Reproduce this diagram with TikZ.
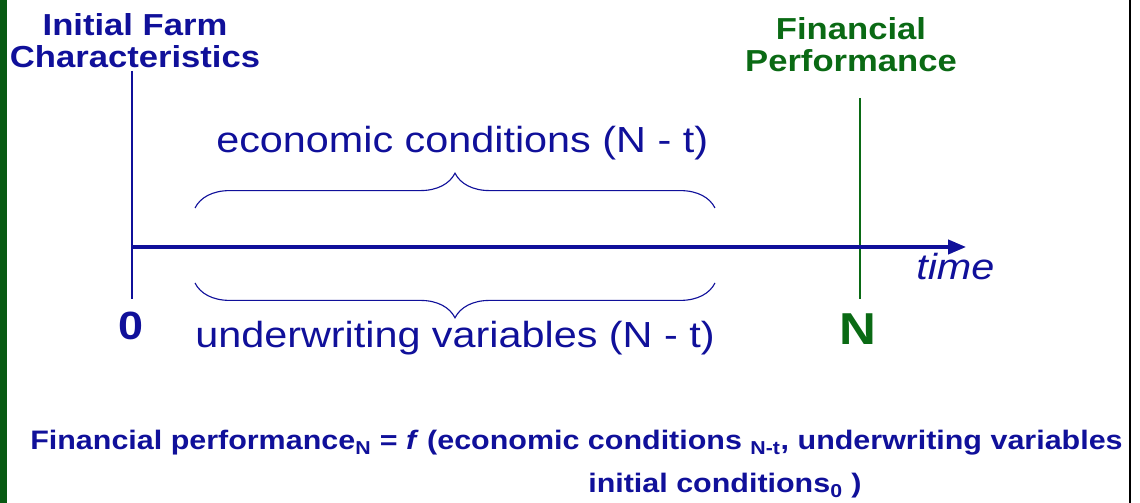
\documentclass[tikz,border=0pt]{standalone}
\usepackage{fontspec}
\setmainfont[FakeStretch=1.14]{Liberation Sans}
\usetikzlibrary{arrows.meta,decorations.pathreplacing}
\definecolor{navy}{HTML}{10109A}
\definecolor{farmgreen}{HTML}{0A6A14}
\definecolor{bargreen}{HTML}{075A12}

\begin{document}
\begin{tikzpicture}[x=0.025cm, y=-0.025cm,
  headline/.style={font=\fontsize{21.6}{22.8}\selectfont\bfseries, align=center, inner sep=0pt, anchor=north},
  spanlabel/.style={font=\fontsize{25.8}{28}\selectfont, text=navy, inner sep=0pt, anchor=base west},
  ticklabel/.style={font=\bfseries, inner sep=0pt, anchor=base},
  formula/.style={font=\fontsize{19}{22}\selectfont\bfseries, text=navy, inner sep=0pt, anchor=base west},
  axis/.style={-{Triangle[length=0.45cm,width=0.36cm]}, line width=2.2pt, navy},
  bracket/.style={decorate, decoration={brace, amplitude=0.87cm}, navy, line width=0.8pt}
]
  \useasboundingbox (0,0) rectangle (1140,503);
  \fill[bargreen] (0,0) rectangle (7,503);
  \draw[black, line width=0.8pt] (1130,0) -- (1130,503);

  \node[headline, text=navy] (initial) at (135,13) {Initial Farm\\Characteristics};
  \node[headline, text=farmgreen] (perf) at (851,17) {Financial\\Performance};

  \coordinate (zerotop) at (132,71);
  \coordinate (zerobot) at (132,299);
  \coordinate (ntop) at (860,98);
  \coordinate (nbot) at (860,299);
  \coordinate (tstart) at (132,247);
  \coordinate (tend) at (966,247);

  \draw[navy, line width=1.4pt] (zerotop) -- (zerobot);
  \draw[farmgreen, line width=0.8pt] (ntop) -- (nbot);
  \draw[axis] (tstart) -- (tend);

  \draw[bracket] (195,208) -- (715,208);
  \draw[bracket] (715,283) -- (195,283);

  \node[spanlabel] (econ) at (216,153) {economic conditions (N - t)};
  \node[spanlabel] (under) at (195,348) {underwriting variables (N - t)};
  \node[spanlabel, font=\fontsize{25.8}{28}\selectfont\itshape] (time) at (916,280) {time};

  \node[ticklabel, text=navy, font=\fontsize{28}{30}\selectfont\bfseries] (zero) at (131,340) {0};
  \node[ticklabel, text=farmgreen, font=\fontsize{31.8}{34}\selectfont\bfseries] (nlabel) at (858,345) {N};

  \node[formula] (eq1) at (30,450) {Financial performance\textsubscript{N} = \textit{f} (economic conditions \textsubscript{N-t}, underwriting variables};
  \node[formula] (eq2) at (588,493) {initial conditions\textsubscript{0} )};
\end{tikzpicture}
\end{document}
